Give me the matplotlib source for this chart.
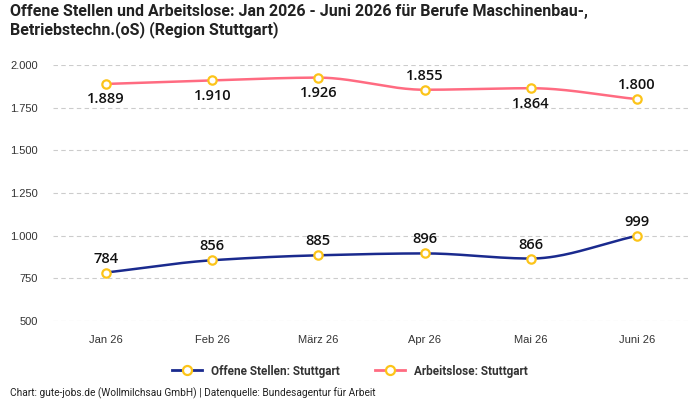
import numpy as np
import matplotlib
matplotlib.use("Agg")
import matplotlib.pyplot as plt
from matplotlib.lines import Line2D

months = ["Jan 26", "Feb 26", "März 26", "Apr 26", "Mai 26", "Juni 26"]
offene = [784, 856, 885, 896, 866, 999]
arbeitslose = [1889, 1910, 1926, 1855, 1864, 1800]
arb_label_pos = ["below", "below", "below", "above", "below", "above"]
yticks = [500, 750, 1000, 1250, 1500, 1750, 2000]

title = "Offene Stellen und Arbeitslose: Jan 2026 - Juni 2026 für Berufe Maschinenbau-,\nBetriebstechn.(oS) (Region Stuttgart)"
footer = "Chart: gute-jobs.de (Wollmilchsau GmbH) | Datenquelle: Bundesagentur für Arbeit"

BLUE = "#1a2a8e"
PINK = "#ff6b81"
YEL = "#fcc419"

def fmt(v):
    return f"{v:,}".replace(",", ".")

def monotone(x, y, n=40):
    x = np.asarray(x, float); y = np.asarray(y, float)
    h = np.diff(x); d = np.diff(y) / h
    m = np.zeros_like(y)
    m[0] = d[0]; m[-1] = d[-1]
    for i in range(1, len(y) - 1):
        if d[i-1] * d[i] <= 0:
            m[i] = 0
        else:
            w1 = 2*h[i] + h[i-1]; w2 = h[i] + 2*h[i-1]
            m[i] = (w1 + w2) / (w1/d[i-1] + w2/d[i])
    xs, ys = [], []
    for i in range(len(h)):
        t = np.linspace(0, 1, n)
        h00 = 2*t**3 - 3*t**2 + 1; h10 = t**3 - 2*t**2 + t
        h01 = -2*t**3 + 3*t**2; h11 = t**3 - t**2
        xs.append(x[i] + t*h[i])
        ys.append(h00*y[i] + h10*h[i]*m[i] + h01*y[i+1] + h11*h[i]*m[i+1])
    return np.concatenate(xs), np.concatenate(ys)

plt.rcParams['font.family'] = ['Roboto', 'DejaVu Sans']
fig = plt.figure(figsize=(7, 4), dpi=100)
ax = fig.add_axes([53/700, 1-321/400, (690-53)/700, (321-65)/400])

x = np.arange(len(months))
for vals, col in [(offene, BLUE), (arbeitslose, PINK)]:
    sx, sy = monotone(x, vals)
    ax.plot(sx, sy, color=col, lw=1.8, zorder=3, clip_on=False)
    ax.plot(x, vals, ls="none", marker="o", ms=6, mfc="white", mec=YEL, mew=1.6, zorder=4, clip_on=False)

lab_kw = dict(textcoords="offset points", ha="center", fontsize=10.5, color="#111",
              family=["Open Sans", "DejaVu Sans"], fontweight="semibold")
for i, v in enumerate(offene):
    ax.annotate(fmt(v), (i, v), xytext=(0, 5), va="bottom", **lab_kw)
for i, v in enumerate(arbeitslose):
    if arb_label_pos[i] == "above":
        ax.annotate(fmt(v), (i, v), xytext=(0, 5), va="bottom", **lab_kw)
    else:
        ax.annotate(fmt(v), (i, v), xytext=(0, -6), va="top", **lab_kw)

ax.set_xlim(-0.5, len(months) - 0.5)
ax.set_ylim(500, 2000)
ax.set_yticks(yticks)
ax.set_yticklabels([fmt(v) for v in yticks])
ax.set_xticks(x)
ax.set_xticklabels(months)
ax.tick_params(axis="both", length=0, labelsize=8, colors="#333")
for t in ax.get_xticklabels() + ax.get_yticklabels():
    t.set_family(["Liberation Sans", "DejaVu Sans"])
ax.tick_params(axis="x", pad=10)
ax.tick_params(axis="y", pad=11)
ax.grid(axis="y", ls=(0, (4, 3)), color="#cccccc", lw=0.8)
ax.set_axisbelow(True)
for s in ax.spines.values():
    s.set_visible(False)

handles = [Line2D([], [], color=BLUE, lw=2, marker="o", ms=6.5, mfc="white", mec=YEL, mew=1.6),
           Line2D([], [], color=PINK, lw=2, marker="o", ms=6.5, mfc="white", mec=YEL, mew=1.6)]
fig.legend(handles, ["Offene Stellen: Stuttgart", "Arbeitslose: Stuttgart"], loc="center",
           bbox_to_anchor=(350/700, 1-371/400), ncol=2, frameon=False, handlelength=2.5,
           columnspacing=3, prop={"weight": "bold", "size": 8.5}, labelcolor="#333")

fig.text(10/700, 1-4/400, title, ha="left", va="top", fontsize=11.5, fontweight="bold", color="#222",
         linespacing=1.15)
fig.text(10/700, 1-393/400, footer, ha="left", va="center", fontsize=7.3, color="#222")

fig.savefig("out.png", dpi=100)
